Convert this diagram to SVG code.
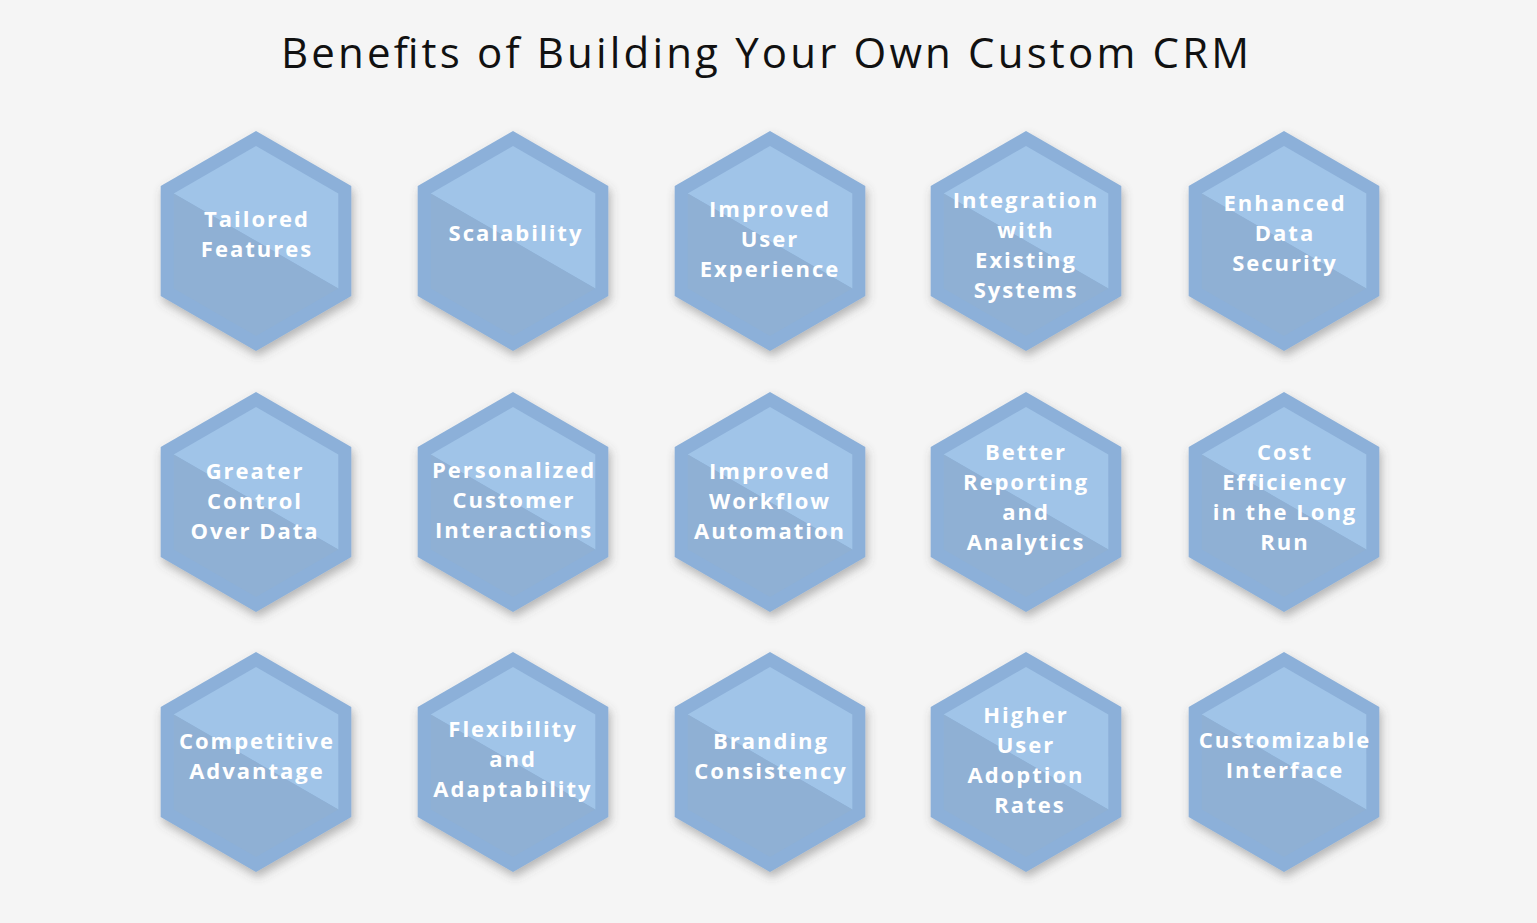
<svg xmlns="http://www.w3.org/2000/svg" xmlns:xlink="http://www.w3.org/1999/xlink" width="1537" height="923" viewBox="0 0 1537 923">
<style>
.title{font-family:"Open Sans","Liberation Sans",sans-serif;font-size:42px;fill:#111;}
.lbl{font-family:"Open Sans","Liberation Sans",sans-serif;font-size:22px;font-weight:700;fill:#ffffff;text-anchor:middle;letter-spacing:2px;}
.outer{fill:#8cb0d9;}
.light{fill:#a0c4e8;}
.dark{fill:#8fb0d4;}
</style>
<defs>
<filter id="sh" x="-30%" y="-30%" width="160%" height="160%">
<feDropShadow dx="2" dy="5" stdDeviation="5" flood-color="#555" flood-opacity="0.4"/>
</filter>
<g id="hex">
<polygon class="outer" filter="url(#sh)" points="0,-110 95.3,-55 95.3,55 0,110 -95.3,55 -95.3,-55"/>
<polygon class="light" points="-82.3,-47.5 0,-95 82.3,-47.5 82.3,47.5"/>
<polygon class="dark" points="82.3,47.5 0,95 -82.3,47.5 -82.3,-47.5"/>
</g>
</defs>
<rect width="1537" height="923" fill="#f5f5f5"/>
<text class="title" x="281" y="68" textLength="968" lengthAdjust="spacing">Benefits of Building Your Own Custom CRM</text>

<g id="n1"><use href="#hex" x="256" y="241"/><text class="lbl"><tspan x="257" y="227">Tailored</tspan><tspan x="257" y="257">Features</tspan></text></g>
<g id="n2"><use href="#hex" x="513" y="241"/><text class="lbl"><tspan x="516" y="241">Scalability</tspan></text></g>
<g id="n3"><use href="#hex" x="770" y="241"/><text class="lbl"><tspan x="770" y="217">Improved</tspan><tspan x="770" y="247">User</tspan><tspan x="770" y="277">Experience</tspan></text></g>
<g id="n4"><use href="#hex" x="1026" y="241"/><text class="lbl"><tspan x="1026" y="208">Integration</tspan><tspan x="1026" y="238">with</tspan><tspan x="1026" y="268">Existing</tspan><tspan x="1026" y="298">Systems</tspan></text></g>
<g id="n5"><use href="#hex" x="1284" y="241"/><text class="lbl"><tspan x="1285" y="211">Enhanced</tspan><tspan x="1285" y="241">Data</tspan><tspan x="1285" y="271">Security</tspan></text></g>

<g id="n6"><use href="#hex" x="256" y="502"/><text class="lbl"><tspan x="255" y="479">Greater</tspan><tspan x="255" y="509">Control</tspan><tspan x="255" y="539">Over Data</tspan></text></g>
<g id="n7"><use href="#hex" x="513" y="502"/><text class="lbl"><tspan x="514" y="478">Personalized</tspan><tspan x="514" y="508">Customer</tspan><tspan x="514" y="538">Interactions</tspan></text></g>
<g id="n8"><use href="#hex" x="770" y="502"/><text class="lbl"><tspan x="770" y="479">Improved</tspan><tspan x="770" y="509">Workflow</tspan><tspan x="770" y="539">Automation</tspan></text></g>
<g id="n9"><use href="#hex" x="1026" y="502"/><text class="lbl"><tspan x="1026" y="460">Better</tspan><tspan x="1026" y="490">Reporting</tspan><tspan x="1026" y="520">and</tspan><tspan x="1026" y="550">Analytics</tspan></text></g>
<g id="n10"><use href="#hex" x="1284" y="502"/><text class="lbl"><tspan x="1285" y="460">Cost</tspan><tspan x="1285" y="490">Efficiency</tspan><tspan x="1285" y="520">in the Long</tspan><tspan x="1285" y="550">Run</tspan></text></g>

<g id="n11"><use href="#hex" x="256" y="762"/><text class="lbl"><tspan x="257" y="749">Competitive</tspan><tspan x="257" y="779">Advantage</tspan></text></g>
<g id="n12"><use href="#hex" x="513" y="762"/><text class="lbl"><tspan x="513" y="737">Flexibility</tspan><tspan x="513" y="767">and</tspan><tspan x="513" y="797">Adaptability</tspan></text></g>
<g id="n13"><use href="#hex" x="770" y="762"/><text class="lbl"><tspan x="771" y="749">Branding</tspan><tspan x="771" y="779">Consistency</tspan></text></g>
<g id="n14"><use href="#hex" x="1026" y="762"/><text class="lbl"><tspan x="1026" y="723">Higher</tspan><tspan x="1026" y="753">User</tspan><tspan x="1026" y="783">Adoption</tspan><tspan x="1030" y="813">Rates</tspan></text></g>
<g id="n15"><use href="#hex" x="1284" y="762"/><text class="lbl"><tspan x="1285" y="748">Customizable</tspan><tspan x="1285" y="778">Interface</tspan></text></g>
<g id="connectors"></g>
</svg>
